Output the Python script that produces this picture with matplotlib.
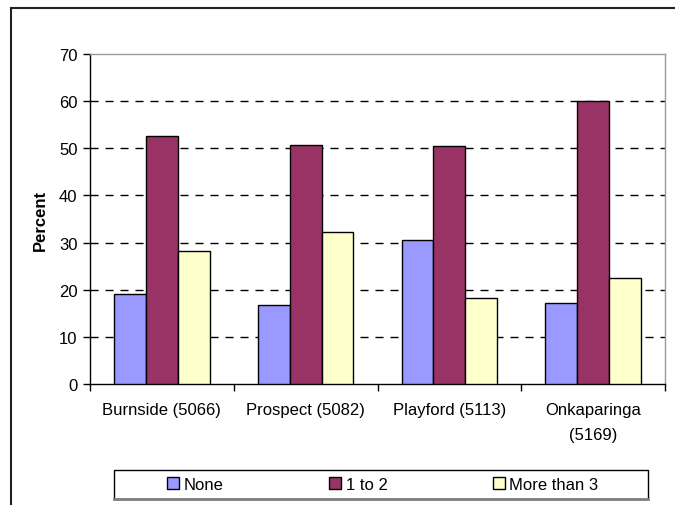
import numpy as np
import matplotlib
matplotlib.use("Agg")
import matplotlib.pyplot as plt
from matplotlib.patches import Rectangle
from matplotlib.lines import Line2D

plt.rcParams['font.family'] = ['Liberation Sans', 'DejaVu Sans']
plt.rcParams['font.size'] = 12

# 数据
regions = ['Burnside (5066)', 'Prospect (5082)', 'Playford (5113)', 'Onkaparinga\n(5169)']
series_names = ['None', '1 to 2', 'More than 3']
none_pct = [19.0, 16.8, 30.5, 17.2]
one_two_pct = [52.6, 50.6, 50.5, 60.1]
more3_pct = [28.2, 32.2, 18.3, 22.5]
colors = ['#9999FF', '#993366', '#FFFFCC']
yticks = [0, 10, 20, 30, 40, 50, 60, 70]

fig = plt.figure(figsize=(6.75, 5.06), dpi=100)
ax = fig.add_axes([90 / 675, 1 - 385 / 506, 575 / 675, 330 / 506])

x = np.arange(len(regions))
w = 0.222
for i, vals in enumerate([none_pct, one_two_pct, more3_pct]):
    ax.bar(x + (i - 1) * w, vals, width=w, color=colors[i], edgecolor='black',
           linewidth=1, label=series_names[i], zorder=3)

ax.set_xlim(-0.5, len(regions) - 0.5)
ax.set_ylim(0, 70)
ax.set_yticks(yticks)
for y in yticks[1:-1]:
    ax.axhline(y, color='black', linewidth=1, linestyle=(0, (5.8, 5)), zorder=1)

# x轴：刻度线在分组边界，标签居中
ax.set_xticks(x)
ax.set_xticklabels(regions, linespacing=1.8)
ax.set_xticks(np.arange(len(regions) + 1) - 0.5, minor=True)
ax.tick_params(axis='x', which='major', length=0, pad=13)
ax.tick_params(axis='x', which='minor', length=5, width=1, direction='out')
ax.tick_params(axis='y', length=5, width=1, direction='out', pad=4)

for side in ['top', 'right']:
    ax.spines[side].set_color('#999999')
    ax.spines[side].set_linewidth(1)
for side in ['left', 'bottom']:
    ax.spines[side].set_color('black')
    ax.spines[side].set_linewidth(1)

ax.set_ylabel('Percent', fontweight='bold')
ax.yaxis.set_label_coords(-0.073, 0.5)

# 图例框
fig.patches.append(Rectangle((114 / 675, 1 - 500 / 506), 534 / 675, 29 / 506,
                             transform=fig.transFigure, facecolor='white',
                             edgecolor='black', linewidth=1))
fig.lines.append(Line2D([114 / 675, 648 / 675], [1 - 500 / 506, 1 - 500 / 506],
                        transform=fig.transFigure, color='#808080', linewidth=2))
handles, labels = ax.get_legend_handles_labels()
fig.legend(handles, labels, loc='center', ncol=3,
           bbox_to_anchor=(383 / 675, 1 - 485.5 / 506),
           frameon=False, handlelength=0.72, handleheight=0.72,
           handletextpad=0.25, columnspacing=6.35, borderaxespad=0)

# 外框
fig.lines.append(Line2D([11 / 675, 11 / 675], [-0.1, 1 - 9 / 506],
                        transform=fig.transFigure, color='#222222', linewidth=1.5))
fig.lines.append(Line2D([11 / 675, 1.1], [1 - 9 / 506, 1 - 9 / 506],
                        transform=fig.transFigure, color='#222222', linewidth=1.5))

fig.savefig('out.png', dpi=100)
